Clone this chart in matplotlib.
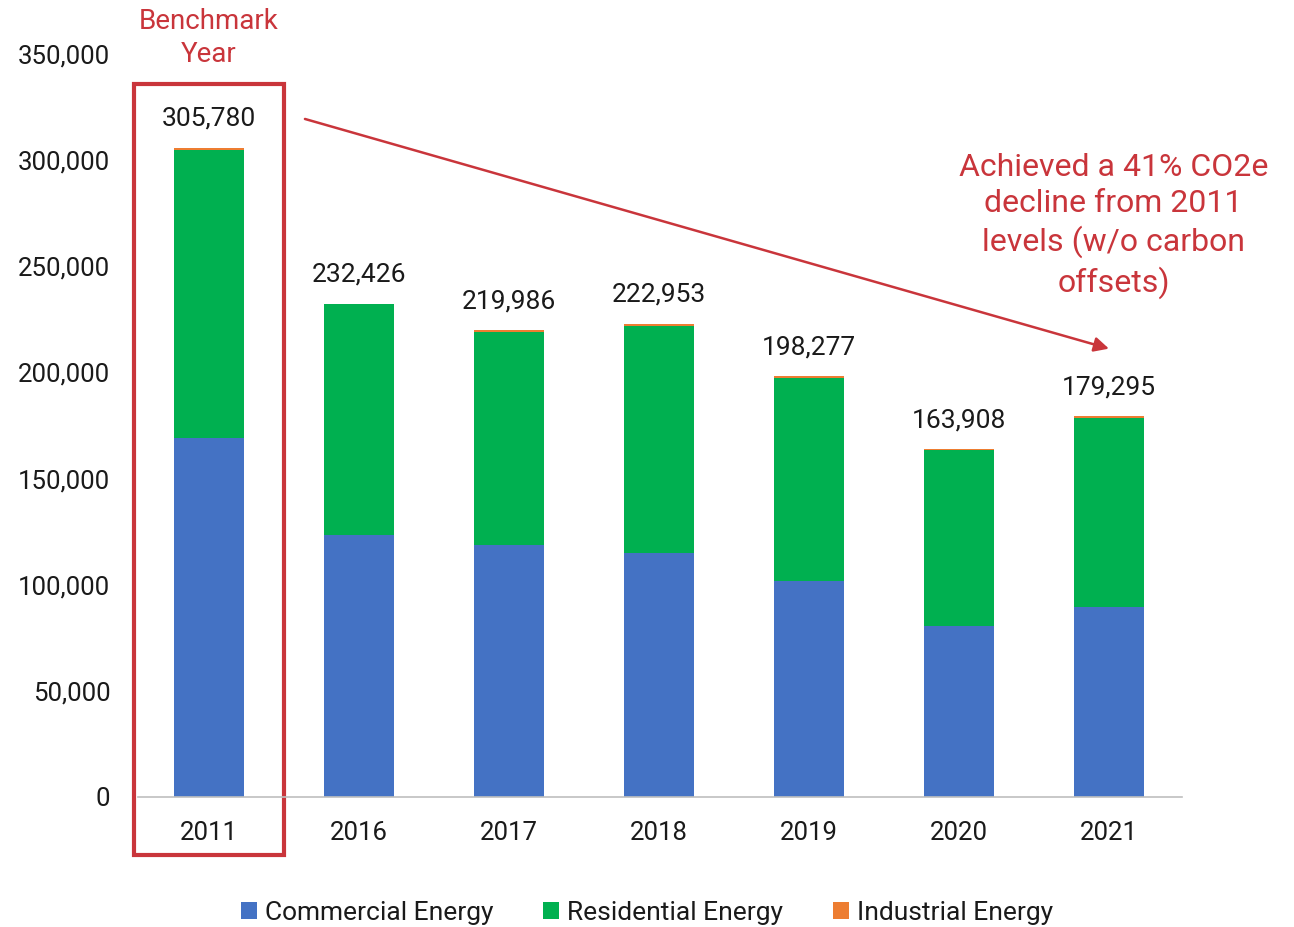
import numpy as np
import matplotlib.pyplot as plt
from matplotlib.patches import Rectangle

plt.rcParams['font.family'] = ['Roboto', 'DejaVu Sans']

years = ['2011', '2016', '2017', '2018', '2019', '2020', '2021']
totals = [305780, 232426, 219986, 222953, 198277, 163908, 179295]
commercial = [169300, 123200, 118500, 114800, 101600, 80400, 89400]
industrial = [900, 300, 1000, 900, 800, 500, 600]
residential = [t - c - i for t, c, i in zip(totals, commercial, industrial)]

blue = '#4472C4'
green = '#00B050'
orange = '#ED7D31'
red = '#C9353B'
txt = '#1a1a1a'

fig = plt.figure(figsize=(12.94, 9.27), dpi=100)
ax = fig.add_axes([138 / 1294, 130 / 927, 1044 / 1294, 743 / 927])

x = np.arange(len(years))
w = 0.47
ax.bar(x, commercial, w, color=blue, label='Commercial Energy')
ax.bar(x, residential, w, bottom=commercial, color=green, label='Residential Energy')
bot2 = [c + r for c, r in zip(commercial, residential)]
ax.bar(x, industrial, w, bottom=bot2, color=orange, label='Industrial Energy')

for xi, t in zip(x, totals):
    ax.text(xi, t + 8000, f'{t:,}', ha='center', va='bottom', fontsize=19, color=txt)

ax.set_xlim(-0.473, 6.487)
ax.set_ylim(0, 350000)
ax.set_yticks(np.arange(0, 350001, 50000))
ax.set_yticklabels([f'{v:,}' for v in range(0, 350001, 50000)])
ax.set_xticks(x)
ax.set_xticklabels(years)
ax.tick_params(axis='both', length=0, labelsize=18.5, colors=txt)
ax.tick_params(axis='y', pad=20)
ax.tick_params(axis='x', pad=17)
for s in ['top', 'right', 'left']:
    ax.spines[s].set_visible(False)
ax.spines['bottom'].set_color('#bfbfbf')
ax.spines['bottom'].set_linewidth(1.2)

# benchmark box
ax.add_patch(Rectangle((-0.497, -27300), 0.994, 363100, fill=False,
                       edgecolor=red, linewidth=3, clip_on=False))
ax.text(0, 357500, 'Benchmark\nYear', ha='center', va='center', fontsize=20,
        color=red, linespacing=1.25, clip_on=False)

ax.annotate('', xy=(6.0, 211200), xytext=(0.64, 319400),
            arrowprops=dict(arrowstyle='-|>', color=red, lw=1.8,
                            mutation_scale=22, shrinkA=0, shrinkB=0))
ax.text(6.03, 269000, 'Achieved a 41% CO2e\ndecline from 2011\nlevels (w/o carbon\noffsets)',
        ha='center', va='center', fontsize=23, color=red, linespacing=1.3)

fig.legend(loc='center', bbox_to_anchor=(0.5, 14 / 927), ncol=3, frameon=False,
           fontsize=19, handlelength=0.6, handleheight=0.6, handletextpad=0.3,
           columnspacing=1.9, labelcolor=txt)

fig.savefig('out.png', dpi=100)
